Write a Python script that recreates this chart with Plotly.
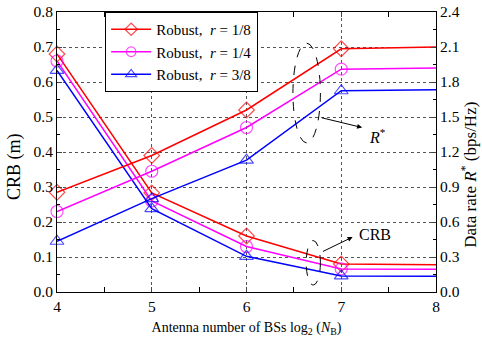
import plotly.graph_objects as go

x = [4, 5, 6, 7, 8]
crb_18 = [0.68, 0.283, 0.16, 0.08, 0.078]
crb_14 = [0.66, 0.26, 0.13, 0.066, 0.065]
crb_38 = [0.633, 0.238, 0.102, 0.046, 0.045]
rate_18 = [0.855, 1.17, 1.56, 2.085, 2.10]
rate_14 = [0.69, 1.035, 1.41, 1.91, 1.92]
rate_38 = [0.435, 0.80, 1.13, 1.725, 1.734]
names = ["Robust,&nbsp; <i>r</i> = 1/8", "Robust,&nbsp; <i>r</i> = 1/4", "Robust,&nbsp; <i>r</i> = 3/8"]
colors = ["#ff0000", "#ff00ff", "#0000ff"]
symbols = ["diamond-open", "circle-open", "triangle-up-open"]
msizes = [12, 12, 12, 12, 0]

fig = go.Figure()
for crb, rate, nm, c, s in zip([crb_18, crb_14, crb_38], [rate_18, rate_14, rate_38], names, colors, symbols):
    fig.add_trace(go.Scatter(x=x, y=crb, mode="lines+markers", name=nm,
                             line=dict(color=c, width=1.5),
                             marker=dict(symbol=s, size=msizes, color=c, line=dict(width=1.2, color=c)),
                             cliponaxis=False))
    fig.add_trace(go.Scatter(x=x, y=rate, mode="lines+markers", name=nm, showlegend=False,
                             yaxis="y2",
                             line=dict(color=c, width=1.5),
                             marker=dict(symbol=s, size=msizes, color=c, line=dict(width=1.2, color=c)),
                             cliponaxis=False))

font = "Liberation Serif"
fig.update_layout(
    width=482, height=350,
    margin=dict(l=57, r=46, t=12, b=58),
    paper_bgcolor="white", plot_bgcolor="white",
    font=dict(family=font, size=14, color="black"),
    showlegend=True,
    legend=dict(x=0.127, y=1.0, xanchor="left", yanchor="top",
                bordercolor="black", borderwidth=1, bgcolor="white",
                font=dict(family=font, size=15), tracegroupgap=0, itemwidth=40),
    xaxis=dict(range=[4, 8], tickvals=[4, 5, 6, 7, 8], ticks="inside", ticklen=5, automargin=False,
               showline=True, linecolor="black", linewidth=1, mirror="allticks",
               showgrid=True, gridcolor="#555", griddash="dot", gridwidth=1,
               minor=dict(tickvals=[4.5, 5.5, 6.5, 7.5], ticks="inside", ticklen=3, tickcolor="black"),
               title=dict(text="Antenna number of BSs log<sub>2</sub> (<i>N</i><sub>B</sub>)", standoff=8,
                          font=dict(family=font, size=14)),
               zeroline=False, tickfont=dict(family=font, size=15.5)),
    yaxis=dict(range=[0, 0.8], dtick=0.1, tickformat=".1f", ticks="inside", ticklen=5, automargin=False,
               showline=True, linecolor="black", linewidth=1, mirror=True,
               showgrid=True, gridcolor="#555", griddash="dot", gridwidth=1,
               minor=dict(dtick=0.05, ticks="inside", ticklen=3, tickcolor="black"),
               zeroline=False, tickfont=dict(family=font, size=15.5)),
    yaxis2=dict(range=[0, 2.4], dtick=0.3, tickformat=".1f", ticks="inside", ticklen=5, automargin=False,
                overlaying="y", side="right", showline=True, linecolor="black", linewidth=1,
                showgrid=False, zeroline=False,
                minor=dict(dtick=0.15, ticks="inside", ticklen=3, tickcolor="black"),
                tickfont=dict(family=font, size=15.5)),
)

# y axis titles (placed as annotations to match the reference's vertical offset)
fig.add_annotation(x=-0.1135, y=0.45, xref="paper", yref="paper", text="CRB (m)", textangle=-90,
                   showarrow=False, xanchor="center", yanchor="middle", font=dict(family=font, size=18))
fig.add_annotation(x=1.121, y=0.418, xref="paper", yref="paper",
                   text="Data rate <i>R</i><sup>*</sup> (bps/Hz)", textangle=-90,
                   showarrow=False, xanchor="right", yanchor="middle", font=dict(family=font, size=17))

# dashed ellipses
fig.add_shape(type="circle", xref="x", yref="y", x0=6.49, x1=6.78, y0=0.426, y1=0.711,
              line=dict(color="black", width=1, dash="dash"))
fig.add_shape(type="circle", xref="x", yref="y", x0=6.63, x1=6.78, y0=0.02, y1=0.147,
              line=dict(color="black", width=1, dash="dash"))

# arrows and labels
fig.add_annotation(x=7.22, y=0.47, ax=6.76, ay=0.5, xref="x", yref="y", axref="x", ayref="y",
                   showarrow=True, arrowhead=2, arrowsize=1, arrowwidth=1, arrowcolor="black", text=" ")
fig.add_annotation(x=7.27, y=0.445, xref="x", yref="y", text="<i>R</i><sup>*</sup>", showarrow=False,
                   xanchor="left", yanchor="middle", font=dict(family=font, size=16))
fig.add_annotation(x=7.12, y=0.157, ax=6.77, ay=0.111, xref="x", yref="y", axref="x", ayref="y",
                   showarrow=True, arrowhead=2, arrowsize=1, arrowwidth=1, arrowcolor="black", text=" ")
fig.add_annotation(x=7.17, y=0.165, xref="x", yref="y", text="CRB", showarrow=False,
                   xanchor="left", yanchor="middle", font=dict(family=font, size=16))

fig.write_html("out.html", config={"displayModeBar": False},
               post_script="document.body.style.margin='0';")
